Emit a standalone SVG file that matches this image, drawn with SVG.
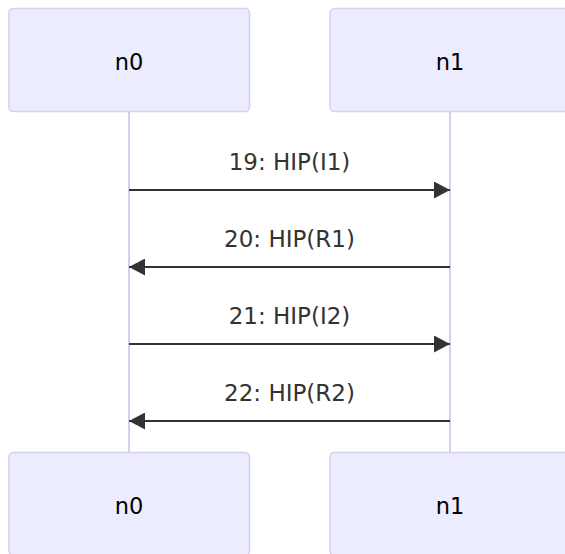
<svg xmlns="http://www.w3.org/2000/svg" width="565" height="554" viewBox="0 0 565 554">
  <style>
    .actor { fill: #ECECFF; stroke: #d6cdf3; stroke-width: 1.5; }
    .actor-text { font-family: "DejaVu Sans", Verdana, sans-serif; font-size: 22.5px; fill: #000; text-anchor: middle; }
    .lifeline { stroke: #d6cdf3; stroke-width: 2; fill: none; }
    .msg { stroke: #333; stroke-width: 2.2; fill: none; }
    .msg-text { font-family: "DejaVu Sans", Verdana, sans-serif; font-size: 23px; fill: #333; text-anchor: middle; }
  </style>
  <defs>
    <marker id="arrowhead" viewBox="0 0 16 17" refX="16" refY="8.5" markerWidth="16" markerHeight="17" markerUnits="userSpaceOnUse" orient="auto-start-reverse">
      <path d="M0,0 L16,8.5 L0,17 z" fill="#333"/>
    </marker>
  </defs>
  <rect width="565" height="554" fill="#ffffff"/>

  <!-- lifelines -->
  <g id="lifelines">
    <line class="lifeline" x1="129" y1="112" x2="129" y2="452"/>
    <line class="lifeline" x1="450" y1="112" x2="450" y2="452"/>
  </g>

  <!-- participants, top row -->
  <g id="n0-top">
    <rect class="actor" x="9" y="8.5" width="240.5" height="103" rx="4.5"/>
    <text class="actor-text" x="129" y="70">n0</text>
  </g>
  <g id="n1-top">
    <rect class="actor" x="330" y="8.5" width="240.5" height="103" rx="4.5"/>
    <text class="actor-text" x="450" y="70">n1</text>
  </g>

  <!-- participants, bottom row -->
  <g id="n0-bottom">
    <rect class="actor" x="9" y="452.5" width="240.5" height="103" rx="4.5"/>
    <text class="actor-text" x="129" y="514">n0</text>
  </g>
  <g id="n1-bottom">
    <rect class="actor" x="330" y="452.5" width="240.5" height="103" rx="4.5"/>
    <text class="actor-text" x="450" y="514">n1</text>
  </g>

  <!-- messages -->
  <g id="connectors">
    <text class="msg-text" x="289.5" y="170">19: HIP(I1)</text>
    <line class="msg" x1="129" y1="190" x2="450" y2="190" marker-end="url(#arrowhead)"/>

    <text class="msg-text" x="289.5" y="247">20: HIP(R1)</text>
    <line class="msg" x1="450" y1="267" x2="129" y2="267" marker-end="url(#arrowhead)"/>

    <text class="msg-text" x="289.5" y="324">21: HIP(I2)</text>
    <line class="msg" x1="129" y1="344" x2="450" y2="344" marker-end="url(#arrowhead)"/>

    <text class="msg-text" x="289.5" y="401">22: HIP(R2)</text>
    <line class="msg" x1="450" y1="421" x2="129" y2="421" marker-end="url(#arrowhead)"/>
  </g>
</svg>
